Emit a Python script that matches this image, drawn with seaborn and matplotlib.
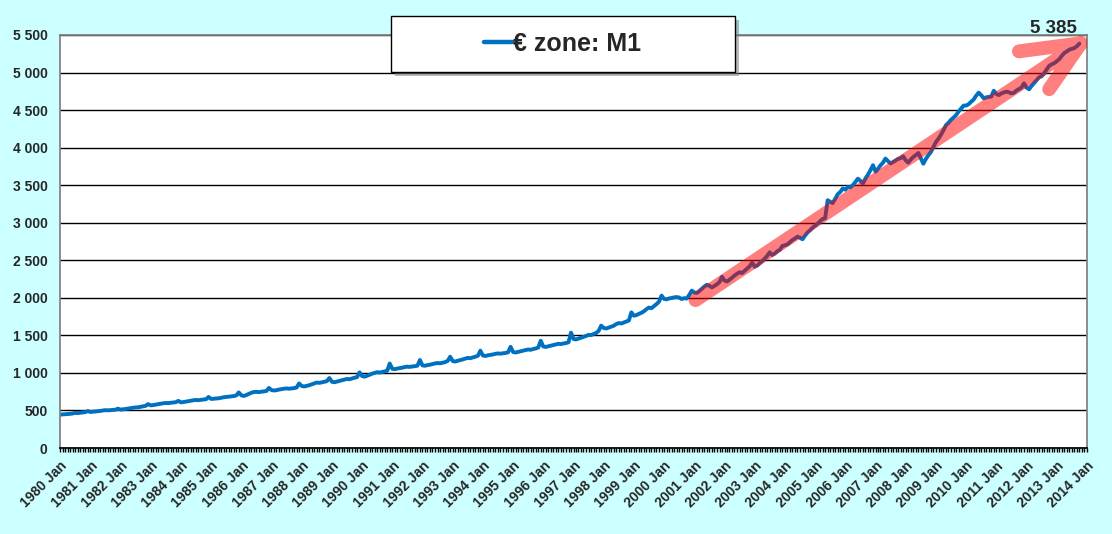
import matplotlib

matplotlib.use("Agg")

import matplotlib.dates as mdates
import matplotlib.pyplot as plt
from matplotlib.lines import Line2D
from matplotlib.patches import PathPatch, Rectangle
from matplotlib.path import Path
from matplotlib.ticker import FuncFormatter
import pandas as pd
import seaborn as sns

# euro area M1, monthly stocks (bn EUR)
series_label = "€ zone: M1"
start_month = "1980-01-01"
m1_values = [
    445, 448, 450, 452, 455, 460, 468, 465, 470, 474, 478, 492,
    480, 483, 487, 490, 494, 500, 504, 502, 505, 508, 510, 524,
    512, 515, 520, 526, 532, 536, 540, 542, 548, 555, 562, 585,
    568, 572, 578, 584, 590, 596, 600, 598, 603, 606, 610, 628,
    608, 612, 618, 624, 630, 636, 640, 637, 642, 646, 650, 680,
    654, 656, 660, 662, 668, 676, 680, 684, 688, 692, 700, 740,
    702, 693, 705, 720, 735, 746, 748, 744, 750, 754, 760, 800,
    772, 766, 770, 778, 784, 790, 794, 790, 794, 798, 806, 860,
    826, 820, 828, 836, 848, 860, 872, 868, 874, 882, 892, 932,
    882, 876, 884, 892, 900, 910, 920, 916, 926, 936, 944, 1008,
    958, 950, 962, 975, 990, 1000, 1010, 1005, 1012, 1020, 1030, 1125,
    1055, 1050, 1058, 1064, 1070, 1078, 1084, 1080, 1086, 1090, 1096, 1172,
    1100, 1096, 1104, 1110, 1118, 1126, 1132, 1128, 1136, 1144, 1160, 1216,
    1158, 1152, 1162, 1170, 1180, 1190, 1200, 1196, 1206, 1216, 1228, 1296,
    1232, 1226, 1234, 1240, 1246, 1254, 1260, 1256, 1262, 1266, 1274, 1348,
    1278, 1272, 1280, 1288, 1296, 1304, 1312, 1308, 1318, 1326, 1338, 1428,
    1352, 1346, 1354, 1362, 1370, 1380, 1388, 1384, 1392, 1398, 1408, 1536,
    1452, 1446, 1456, 1468, 1480, 1492, 1506, 1504, 1518, 1532, 1560, 1630,
    1598, 1592, 1604, 1616, 1628, 1650, 1664, 1658, 1672, 1684, 1698, 1806,
    1762, 1770, 1786, 1800, 1820, 1848, 1870, 1862, 1890, 1916, 1950, 2030,
    1986, 1980, 1992, 1998, 2006, 2010, 2004, 1984, 1996, 1990, 2040, 2096,
    2070, 2066, 2090, 2120, 2150, 2174, 2160, 2138, 2160, 2180, 2210, 2280,
    2230, 2218, 2240, 2268, 2296, 2320, 2340, 2330, 2360, 2390, 2420, 2470,
    2414, 2430, 2460, 2490, 2520, 2560, 2606, 2570, 2590, 2620, 2640, 2690,
    2700, 2712, 2740, 2770, 2790, 2815, 2800, 2780, 2830, 2870, 2900, 2935,
    2960, 2990, 3020, 3050, 3060, 3300, 3280, 3262, 3320, 3380, 3410, 3456,
    3440, 3476, 3470, 3500, 3540, 3586, 3560, 3522, 3590, 3640, 3700, 3766,
    3680, 3720, 3763, 3800, 3854, 3820, 3790, 3808, 3830, 3850, 3860, 3884,
    3830, 3800, 3840, 3875, 3900, 3929, 3860, 3786, 3850, 3900, 3942, 4010,
    4076, 4120, 4170, 4230, 4299, 4330, 4370, 4400, 4433, 4480, 4520, 4560,
    4560, 4580, 4610, 4640, 4690, 4732, 4700, 4656, 4670, 4676, 4680, 4758,
    4714, 4700, 4720, 4735, 4745, 4738, 4723, 4730, 4760, 4780, 4800, 4856,
    4800, 4777, 4820, 4860, 4900, 4937, 4950, 4991, 5040, 5090, 5110, 5125,
    5150, 5180, 5220, 5259, 5280, 5304, 5315, 5326, 5350, 5385,
]
first_year = 1980
last_year = 2014
y_max = 5500
y_step = 500

# hand-drawn trend arrow (date, value)
trend_start = ("2001-01-15", 1970)
trend_tip = ("2013-10-20", 5390)
head_upper = ("2011-10-01", 5282)
head_lower = ("2012-10-01", 4778)

sns.set_theme(style="white")
plt.rcParams["font.family"] = ["Liberation Sans", "DejaVu Sans"]
plt.rcParams["font.weight"] = "bold"

frame = pd.DataFrame({
    "month": pd.date_range(start_month, periods=len(m1_values), freq="MS"),
    "m1": m1_values,
})

figure = plt.figure(figsize=(11.12, 5.34), dpi=100, facecolor="#CCFFFF")
axis = figure.add_axes([0.054, 0.161, 0.9235, 0.7735])
axis.set_facecolor("white")

line_color = "#0070C0"
sns.lineplot(data=frame, x="month", y="m1", ax=axis, color=line_color, linewidth=2.8)

axis.set_xlim(pd.Timestamp(f"{first_year}-01-01"), pd.Timestamp(f"{last_year}-01-01"))
axis.set_ylim(0, y_max)
axis.set(xlabel="", ylabel="")

axis.set_yticks(range(0, y_max + 1, y_step))
axis.yaxis.set_major_formatter(FuncFormatter(lambda v, _: f"{v:,.0f}".replace(",", " ")))
axis.yaxis.grid(True, color="black", linewidth=1)
axis.set_axisbelow(True)
axis.tick_params(axis="y", length=0, pad=9, labelsize=10)

year_ticks = pd.date_range(f"{first_year}-01-01", f"{last_year}-01-01", freq="YS")
axis.set_xticks(year_ticks)
axis.set_xticklabels([f"{d.year} Jan" for d in year_ticks], rotation=45, ha="right",
                     rotation_mode="anchor", fontsize=10, fontweight="bold")
axis.xaxis.set_minor_locator(mdates.MonthLocator())
axis.tick_params(axis="x", which="both", direction="out", length=3, width=1,
                 color="black", bottom=True, pad=5)

for side in ("left", "top", "right"):
    axis.spines[side].set_color("#808080")
axis.spines["bottom"].set_color("black")


# trend arrow
def _pt(pair):
    return (mdates.date2num(pd.Timestamp(pair[0])), pair[1])


verts = [_pt(trend_start), _pt(trend_tip), _pt(head_upper), _pt(trend_tip), _pt(head_lower)]
codes = [Path.MOVETO, Path.LINETO, Path.MOVETO, Path.LINETO, Path.LINETO]
arrow = PathPatch(Path(verts, codes), fill=False, edgecolor="red", alpha=0.5,
                  linewidth=10, capstyle="round", joinstyle="round", zorder=4)
axis.add_patch(arrow)

# last value
last = frame.iloc[-1]
axis.annotate(f"{last['m1']:,.0f}".replace(",", " "), xy=(last["month"], last["m1"]),
              xytext=(-19, 11), textcoords="offset points", ha="center", va="center",
              fontsize=13.5, fontweight="bold", annotation_clip=False)

# legend box with shadow
box = (0.322, 0.910, 0.335, 0.136)
shadow = Rectangle((box[0] + 0.004, box[1] - 0.010), box[2], box[3], transform=axis.transAxes,
                   facecolor="#808080", alpha=0.55, edgecolor="none", clip_on=False, zorder=5)
frame_box = Rectangle(box[:2], box[2], box[3], transform=axis.transAxes, facecolor="white",
                      edgecolor="black", linewidth=1, clip_on=False, zorder=5.1)
axis.add_patch(shadow)
axis.add_patch(frame_box)
handle = Line2D([], [], color=line_color, linewidth=3.2)
legend = axis.legend([handle], [series_label], loc="center", bbox_to_anchor=(0.4895, 0.978),
                     frameon=False, prop={"weight": "bold", "size": 18},
                     handlelength=1.1, handletextpad=0.05)
legend.set_zorder(6)

figure.savefig("out.png", dpi=100, facecolor=figure.get_facecolor())
